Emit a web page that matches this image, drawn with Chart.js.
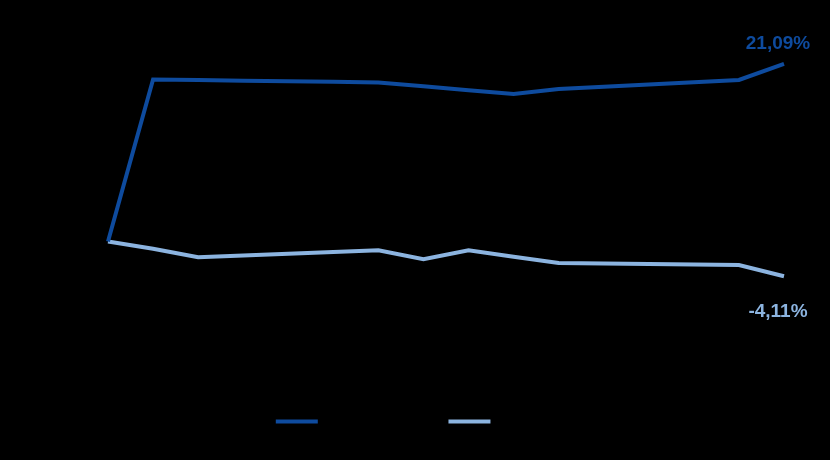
<!DOCTYPE html>
<html>
<head>
<meta charset="utf-8">
<script src="https://cdn.jsdelivr.net/npm/chart.js@4/dist/chart.umd.min.js"></script>
<style>
  html, body { margin: 0; padding: 0; background: #000; }
  #wrap { width: 830px; height: 460px; }
</style>
</head>
<body>
<div id="wrap"><canvas id="myChart"></canvas></div>
<script>
// categories are not legible in the picture (black on black)
let labels = ['dez/20', 'jan/21', 'fev/21', 'mar/21', 'abr/21', 'mai/21', 'jun/21', 'jul/21',
    'ago/21', 'set/21', 'out/21', 'nov/21', 'dez/21', 'jan/22', 'fev/22', 'mar/22']

let fundo = [0, 19.25, 19.19, 19.1, 19.04, 18.98, 18.9, 18.44, 17.98, 17.53, 18.12, 18.38, 18.64, 18.92, 19.19, 21.09]
let indice = [0, -0.84, -1.85, -1.65, -1.45, -1.24, -1.02, -2.09, -1.02, -1.8, -2.54, -2.6, -2.66, -2.72, -2.78, -4.11]

let seriesNames = ['Carteira Dividendos', 'Índice de Referência']
let darkBlue = '#0E4B9E'
let lightBlue = '#8CB4E0'

// writes the last value above / below the end of each line
let endLabels = {
    id: 'endLabels',
    afterDatasetsDraw(chart) {
        let ctx = chart.ctx
        ctx.save()
        ctx.font = 'bold 19px "Liberation Sans", Arial, sans-serif'
        ctx.textAlign = 'center'
        ctx.textBaseline = 'middle'
        chart.data.datasets.forEach((ds, i) => {
            let meta = chart.getDatasetMeta(i)
            let pt = meta.data[meta.data.length - 1]
            let v = ds.data[ds.data.length - 1]
            let txt = v.toFixed(2).replace('.', ',') + '%'
            ctx.fillStyle = ds.borderColor
            let dy = v >= 0 ? -20 : 36
            ctx.fillText(txt, pt.x - 6, pt.y + dy)
        })
        ctx.restore()
    }
}

let ctx = document.getElementById('myChart')
let myChart = new Chart(ctx, {
    type: 'line',
    data: {
        labels,
        datasets: [
            {
                label: seriesNames[0],
                data: fundo,
                borderColor: darkBlue,
                backgroundColor: darkBlue,
                borderWidth: 4,
                pointRadius: 0,
                tension: 0
            },
            {
                label: seriesNames[1],
                data: indice,
                borderColor: lightBlue,
                backgroundColor: lightBlue,
                borderWidth: 4,
                pointRadius: 0,
                tension: 0
            }
        ]
    },
    options: {
        responsive: true,
        maintainAspectRatio: false,
        animation: false,
        layout: {
            padding: { left: 108, right: 46, top: 31, bottom: 22 }
        },
        scales: {
            x: { display: false, offset: false },
            y: { display: false, min: -19.4, max: 25 }
        },
        plugins: {
            tooltip: { enabled: false },
            legend: {
                position: 'bottom',
                labels: {
                    color: '#000',
                    boxWidth: 42,
                    boxHeight: 4,
                    padding: 10,
                    font: { family: '"Liberation Sans", Arial, sans-serif', size: 13 },
                    generateLabels(chart) {
                        return Chart.defaults.plugins.legend.labels.generateLabels(chart)
                            .map(l => Object.assign(l, { lineWidth: 0 }))
                    }
                }
            }
        }
    },
    plugins: [endLabels]
})
</script>
</body>
</html>
